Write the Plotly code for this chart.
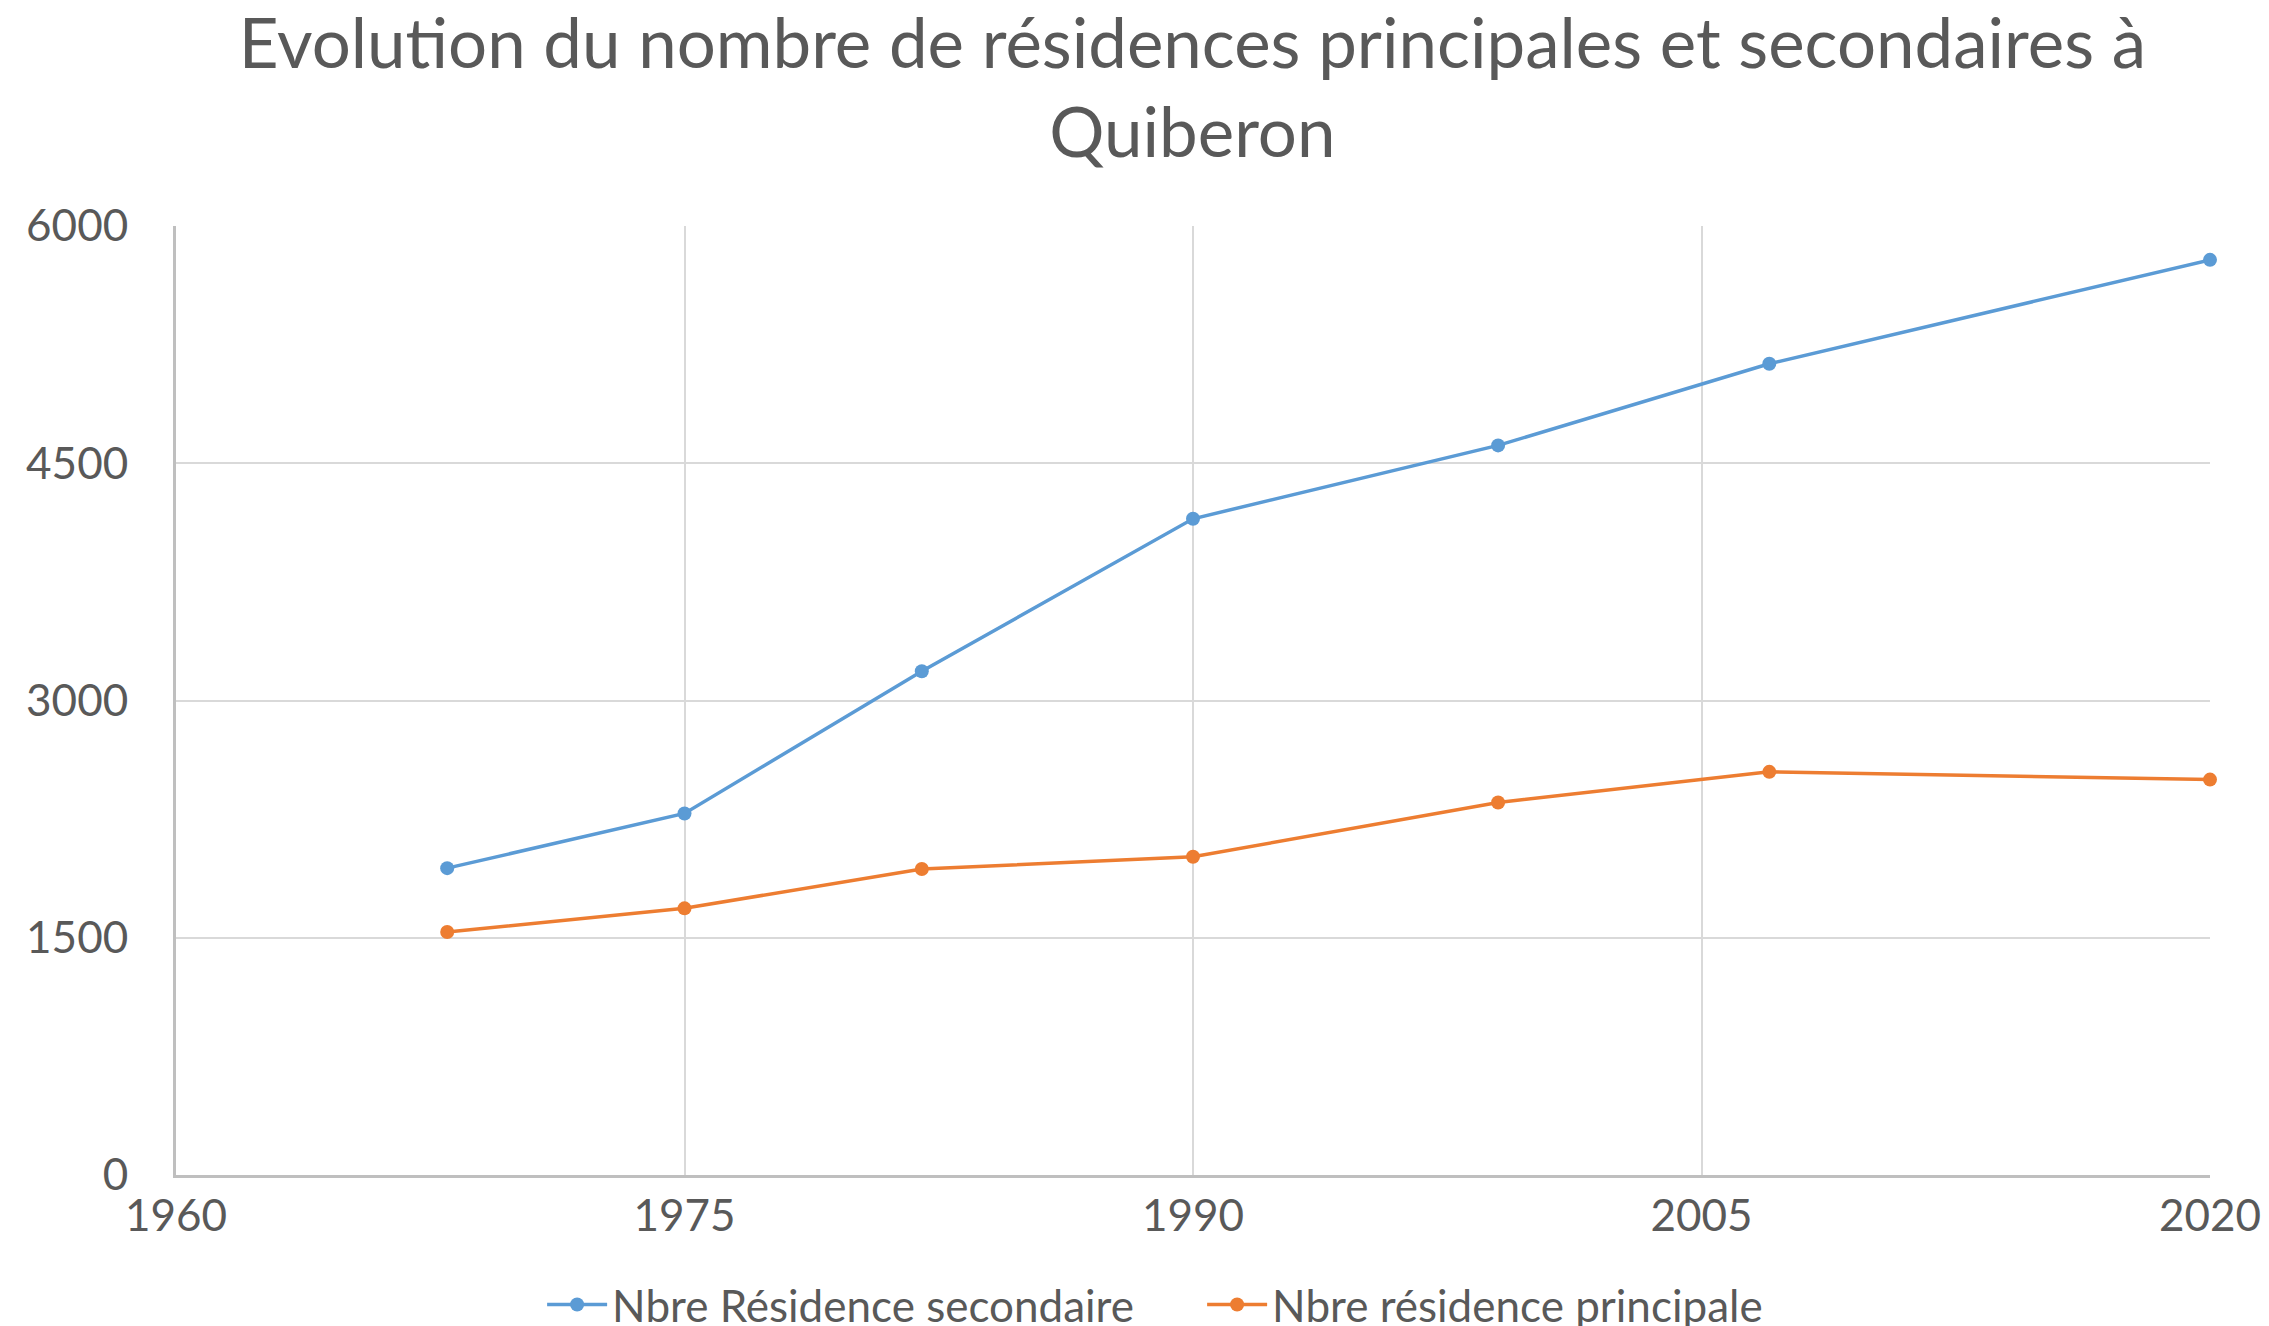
import plotly.graph_objects as go

years = [1968, 1975, 1982, 1990, 1999, 2007, 2020]
secondaire = [1940, 2286, 3185, 4149, 4613, 5129, 5786]
principale = [1536, 1686, 1935, 2012, 2355, 2549, 2500]

name_sec = "Nbre Résidence secondaire"
name_pri = "Nbre résidence principale"
title_text = "Evolution du nombre de résidences principales et secondaires à<br>Quiberon"

x_ticks = [1960, 1975, 1990, 2005, 2020]
y_ticks = [0, 1500, 3000, 4500, 6000]

FONT = "Lato, Open Sans, sans-serif"
TXT = "#595959"

fig = go.Figure()
fig.add_trace(go.Scatter(x=years, y=secondaire, name=name_sec, mode="lines+markers",
                         line=dict(color="#5B9BD5", width=3.5),
                         marker=dict(size=14, color="#5B9BD5"), cliponaxis=False))
fig.add_trace(go.Scatter(x=years, y=principale, name=name_pri, mode="lines+markers",
                         line=dict(color="#ED7D31", width=3.5),
                         marker=dict(size=14, color="#ED7D31"), cliponaxis=False))

fig.update_layout(
    width=2269, height=1326,
    paper_bgcolor="white", plot_bgcolor="white",
    margin=dict(l=168, r=67, t=218, b=159, autoexpand=False),
    font=dict(family=FONT, color=TXT, size=44),
    title=dict(text=title_text, x=0.522, xanchor="center", y=0.955, yanchor="top",
               yref="container", font=dict(family=FONT, size=69, color=TXT),
               automargin=False),
    showlegend=True,
    legend=dict(orientation="h", x=0.180, xanchor="left", y=0.022, yanchor="middle",
                yref="container", font=dict(size=44, color=TXT), itemwidth=60,
                entrywidth=585, entrywidthmode="pixels",
                bgcolor="rgba(0,0,0,0)"),
)
fig.update_xaxes(range=[1960, 2020], tickvals=x_ticks, ticktext=[str(v) for v in x_ticks],
                 showgrid=True, gridcolor="#D9D9D9", gridwidth=2,
                 showline=True, linecolor="#BFBFBF", linewidth=3,
                 zeroline=False, ticks="", ticklabelstandoff=0, automargin=False,
                 tickfont=dict(size=44, color=TXT))
fig.update_yaxes(range=[0, 6000], tickvals=y_ticks, ticktext=[str(v) for v in y_ticks],
                 showgrid=True, gridcolor="#D9D9D9", gridwidth=2,
                 showline=True, linecolor="#BFBFBF", linewidth=3,
                 zeroline=False, ticks="", ticklabelstandoff=36, automargin=False,
                 tickfont=dict(size=44, color=TXT))

fig.write_html("out.html")
